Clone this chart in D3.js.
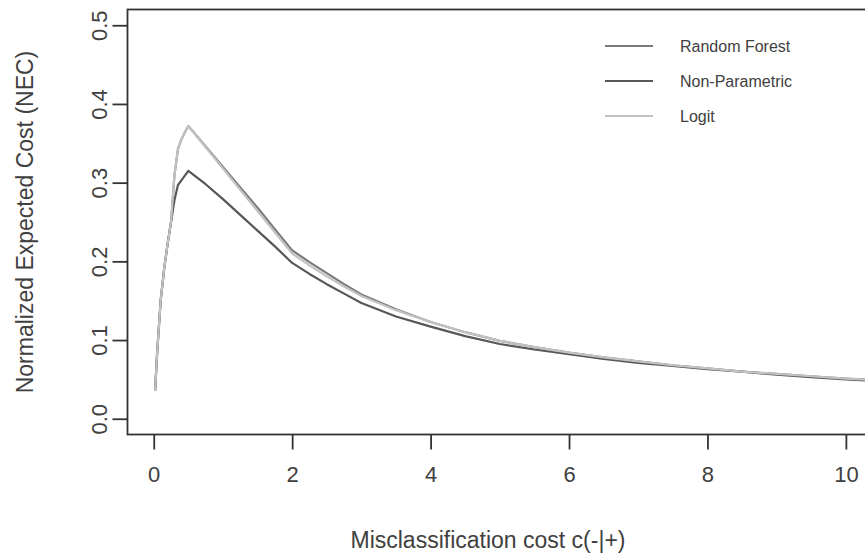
<!DOCTYPE html>
<html>
<head>
<meta charset="utf-8">
<script src="https://cdn.jsdelivr.net/npm/d3@7"></script>
<style>
  body { margin: 0; background: #fff; }
  text { font-family: "Liberation Sans", Arial, sans-serif; fill: #404040; }
</style>
</head>
<body>
<div id="chart"></div>
<script>
// misclassification cost c(-|+)
var costs = [0.02, 0.05, 0.1, 0.15, 0.2, 0.25, 0.3, 0.35, 0.4, 0.45, 0.5,
    0.75, 1, 1.25, 1.5, 1.75, 2, 2.25, 2.5, 2.75, 3, 3.5, 4, 4.5, 5, 5.5,
    6, 6.5, 7, 7.5, 8, 8.5, 9, 9.5, 10, 10.4];

var randomForest = [0.036, 0.085, 0.150, 0.190, 0.222, 0.250, 0.310, 0.343, 0.355, 0.364, 0.372,
    0.346, 0.320, 0.294, 0.268, 0.241, 0.214, 0.199, 0.185, 0.171, 0.158, 0.139, 0.123, 0.110, 0.099, 0.091,
    0.084, 0.078, 0.073, 0.068, 0.064, 0.060, 0.057, 0.054, 0.051, 0.049];

var nonParametric = [0.036, 0.085, 0.150, 0.190, 0.222, 0.250, 0.278, 0.297, 0.303, 0.309, 0.315,
    0.298, 0.279, 0.259, 0.239, 0.219, 0.198, 0.184, 0.171, 0.159, 0.147, 0.130, 0.117, 0.105, 0.095, 0.088,
    0.082, 0.076, 0.071, 0.067, 0.063, 0.060, 0.056, 0.053, 0.050, 0.048];

var logit = [0.036, 0.085, 0.150, 0.190, 0.222, 0.250, 0.310, 0.343, 0.355, 0.364, 0.372,
    0.345, 0.318, 0.291, 0.264, 0.237, 0.210, 0.195, 0.181, 0.168, 0.156, 0.138, 0.123, 0.110, 0.099, 0.091,
    0.084, 0.078, 0.073, 0.068, 0.064, 0.060, 0.057, 0.054, 0.051, 0.049];

var seriesNames = ['Random Forest', 'Non-Parametric', 'Logit'];
var xTicks = [0, 2, 4, 6, 8, 10];
var yTicks = [0, 0.1, 0.2, 0.3, 0.4, 0.5];

var width = 865, height = 556;
var boxL = 127.5, boxR = 873.5, boxT = 9.5, boxB = 434.5;

var svg = d3.select('#chart')
    .append('svg')
    .attr('width', width)
    .attr('height', height);

var x = d3.scaleLinear().domain([-0.379, 10.399]).range([boxL, boxR]);
var y = d3.scaleLinear().domain([-0.02, 0.52]).range([boxB, boxT]);

var colors = {'Random Forest': '#7a7a7a', 'Non-Parametric': '#575757', 'Logit': '#c2c2c2'};
var values = {'Random Forest': randomForest, 'Non-Parametric': nonParametric, 'Logit': logit};

svg.append('clipPath').attr('id', 'clip')
    .append('rect')
    .attr('x', boxL).attr('y', boxT)
    .attr('width', boxR - boxL).attr('height', boxB - boxT);

var line = d3.line()
    .x(d => x(d[0]))
    .y(d => y(d[1]));

var lines = svg.append('g').attr('clip-path', 'url(#clip)');
seriesNames.forEach(name => {
    lines.append('path')
        .datum(costs.map((c, i) => [c, values[name][i]]))
        .attr('d', line)
        .attr('fill', 'none')
        .attr('stroke', colors[name])
        .attr('stroke-width', 2.2)
        .attr('stroke-linejoin', 'round');
});

// box
svg.append('rect')
    .attr('x', boxL).attr('y', boxT)
    .attr('width', boxR - boxL).attr('height', boxB - boxT)
    .attr('fill', 'none')
    .attr('stroke', '#333')
    .attr('stroke-width', 1.8);

// x axis
var xAxis = svg.append('g')
    .attr('transform', `translate(0,${boxB})`)
    .call(d3.axisBottom(x).tickValues(xTicks).tickSize(15).tickPadding(17).tickFormat(d3.format('d')));
xAxis.select('.domain').remove();
xAxis.selectAll('line').attr('stroke', '#333').attr('stroke-width', 1.8);
xAxis.selectAll('text').style('font-size', '22px').attr('fill', '#404040');

// y axis, labels parallel to the axis
var yAxis = svg.append('g')
    .attr('transform', `translate(${boxL},0)`)
    .call(d3.axisLeft(y).tickValues(yTicks).tickSize(15).tickFormat(d3.format('.1f')));
yAxis.select('.domain').remove();
yAxis.selectAll('line').attr('stroke', '#333').attr('stroke-width', 1.8);
yAxis.selectAll('text')
    .style('font-size', '22px')
    .attr('fill', '#404040')
    .attr('x', null).attr('dy', null)
    .attr('text-anchor', 'middle')
    .attr('transform', 'translate(-21,0) rotate(-90)');

svg.append('text')
    .attr('x', 488)
    .attr('y', 548)
    .attr('text-anchor', 'middle')
    .style('font-size', '23px')
    .text('Misclassification cost c(-|+)');

svg.append('text')
    .attr('transform', `translate(33,${(boxT + boxB) / 2}) rotate(-90)`)
    .attr('text-anchor', 'middle')
    .style('font-size', '23px')
    .text('Normalized Expected Cost (NEC)');

// legend
var legend = svg.append('g').attr('transform', 'translate(605,46)');
seriesNames.forEach((name, i) => {
    var g = legend.append('g').attr('transform', `translate(0,${i * 35})`);
    g.append('line')
        .attr('x1', 0).attr('x2', 48)
        .attr('stroke', colors[name])
        .attr('stroke-width', 2.2);
    g.append('text')
        .attr('x', 75)
        .attr('dy', '0.35em')
        .style('font-size', '16px')
        .text(name);
});
</script>
</body>
</html>
